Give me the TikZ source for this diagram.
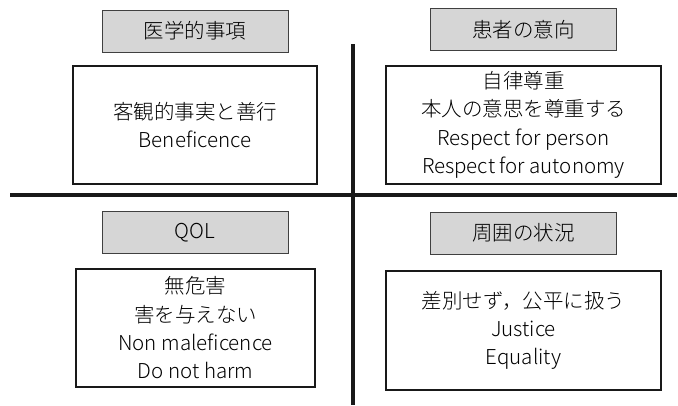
\documentclass[tikz,border=0pt]{standalone}
\usepackage{fontspec}
\setmainfont{Noto Sans CJK JP}[UprightFont={* Light}]
\begin{document}
\begin{tikzpicture}[x=1pt,y=-1pt,
  hdr/.style={draw=black!75,line width=0.9pt,fill=black!16,minimum width=186pt,minimum height=42pt,inner sep=0pt,font=\fontsize{20.5}{24}\selectfont},
  body/.style={draw=black!90,line width=1.4pt,fill=white,inner sep=0pt,align=center,font=\fontsize{20.5}{28.3}\selectfont},
  axis/.style={line width=4pt,black!90}]
\useasboundingbox (0,0) rectangle (678,405);
% axes
\coordinate (hl) at (10,195);
\coordinate (hr) at (677,195);
\coordinate (vt) at (353,44);
\coordinate (vb) at (353,405);
\draw[axis] (hl) -- (hr);
\draw[axis] (vt) -- (vb);
% headers
\node[hdr] (h1) at (195,31) {医学的事項};
\node[hdr] (h2) at (523.5,29.5) {患者の意向};
\node[hdr] (h3) at (195,232.5) {QOL};
\node[hdr] (h4) at (523.5,233) {周囲の状況};
% bodies
\node[body,minimum width=244pt,minimum height=118pt] (b1) at (195,125) {客観的事実と善行\\Beneficence};
\node[body,minimum width=275pt,minimum height=118pt] (b2) at (523.5,125) {自律尊重\\本人の意思を尊重する\\Respect for person\\Respect for autonomy};
\node[body,minimum width=239pt,minimum height=118pt] (b3) at (195.5,328) {無危害\\害を与えない\\Non maleficence\\Do not harm};
\node[body,minimum width=275pt,minimum height=119pt] (b4) at (523.5,330.5) {差別せず，公平に扱う\\Justice\\Equality};
\end{tikzpicture}
\end{document}
